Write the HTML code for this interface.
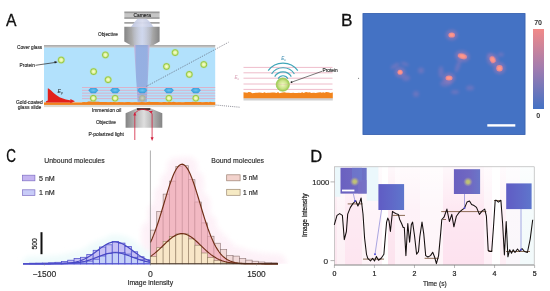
<!DOCTYPE html>
<html><head><meta charset="utf-8"><style>
html,body{margin:0;padding:0;background:#fff;overflow:hidden;}
svg{display:block;font-family:"Liberation Sans", sans-serif;filter:blur(0.38px);}
</style></head><body>
<svg width="550" height="291" viewBox="0 0 550 291">
<rect width="550" height="291" fill="#fff"/>
<defs>
<linearGradient id="beam" x1="0" x2="1"><stop offset="0" stop-color="#d4b4d8"/><stop offset="0.16" stop-color="#92aadf"/><stop offset="0.84" stop-color="#92aadf"/><stop offset="1" stop-color="#d4b4d8"/></linearGradient>
<linearGradient id="obj" x1="0" x2="1"><stop offset="0" stop-color="#848484"/><stop offset="0.5" stop-color="#dedede"/><stop offset="1" stop-color="#848484"/></linearGradient>
<linearGradient id="cam" x1="0" y1="0" x2="0" y2="1"><stop offset="0" stop-color="#7a7a7a"/><stop offset="0.3" stop-color="#c6c6c6"/><stop offset="0.7" stop-color="#c6c6c6"/><stop offset="1" stop-color="#7a7a7a"/></linearGradient>
<linearGradient id="cone" x1="0" y1="0" x2="1" y2="0"><stop offset="0" stop-color="#bcc4de"/><stop offset="0.5" stop-color="#d8dcee"/><stop offset="1" stop-color="#bcc4de"/></linearGradient>
<linearGradient id="objbeam" x1="0" y1="0" x2="1" y2="0"><stop offset="0" stop-color="#b4c0e4" stop-opacity="0"/><stop offset="0.5" stop-color="#ccd6f0" stop-opacity="0.85"/><stop offset="1" stop-color="#b4c0e4" stop-opacity="0"/></linearGradient>
<radialGradient id="grn" cx="0.5" cy="0.5" r="0.5"><stop offset="0" stop-color="#f6fdd8"/><stop offset="0.4" stop-color="#e4f4a4"/><stop offset="0.72" stop-color="#96c846"/><stop offset="1" stop-color="#b4dc80" stop-opacity="0.3"/></radialGradient>
<radialGradient id="grn2" cx="0.5" cy="0.5" r="0.5"><stop offset="0" stop-color="#f0f8c0"/><stop offset="0.6" stop-color="#cce48a"/><stop offset="1" stop-color="#98c850"/></radialGradient>
<radialGradient id="gry" cx="0.5" cy="0.5" r="0.5"><stop offset="0" stop-color="#d0d4c0"/><stop offset="0.7" stop-color="#a8b0a0"/><stop offset="1" stop-color="#b0b8b0" stop-opacity="0.3"/></radialGradient>
<radialGradient id="bprot" cx="0.5" cy="0.45" r="0.55"><stop offset="0" stop-color="#6cc4f0"/><stop offset="1" stop-color="#2e98d8"/></radialGradient>
<radialGradient id="spot"><stop offset="0" stop-color="#ffa090"/><stop offset="0.5" stop-color="#f28c86"/><stop offset="1" stop-color="#4472c4" stop-opacity="0"/></radialGradient>
<radialGradient id="halo"><stop offset="0" stop-color="#9a7cc0" stop-opacity="0.8"/><stop offset="1" stop-color="#4472c4" stop-opacity="0"/></radialGradient>
<linearGradient id="cbar" x1="0" y1="0" x2="0" y2="1"><stop offset="0" stop-color="#f28a88"/><stop offset="0.5" stop-color="#a07cb0"/><stop offset="1" stop-color="#4472c4"/></linearGradient>
<clipPath id="bclip"><rect x="362.7" y="13.2" width="162.6" height="121.6"/></clipPath>
<filter id="blur15" x="-100%" y="-100%" width="300%" height="300%"><feGaussianBlur stdDeviation="1.6"/></filter>
<filter id="blur1" x="-100%" y="-100%" width="300%" height="300%"><feGaussianBlur stdDeviation="0.9"/></filter>
<filter id="blur05" x="-100%" y="-100%" width="300%" height="300%"><feGaussianBlur stdDeviation="0.4"/></filter>
<filter id="blur07" x="-100%" y="-100%" width="300%" height="300%"><feGaussianBlur stdDeviation="0.6"/></filter>
<filter id="blur6" x="-50%" y="-50%" width="200%" height="200%"><feGaussianBlur stdDeviation="2.5"/></filter>
<linearGradient id="dfade" x1="0" y1="0" x2="0" y2="1"><stop offset="0" stop-color="#fff" stop-opacity="0.75"/><stop offset="0.45" stop-color="#fff" stop-opacity="0.2"/><stop offset="1" stop-color="#fff" stop-opacity="0"/></linearGradient>
<linearGradient id="ins1" x1="0" y1="0" x2="1" y2="0"><stop offset="0" stop-color="#6a60c0"/><stop offset="0.6" stop-color="#7068c2"/><stop offset="1" stop-color="#6a76c8"/></linearGradient>
<linearGradient id="ins2" x1="0" y1="0" x2="1" y2="0"><stop offset="0" stop-color="#605cc4"/><stop offset="0.5" stop-color="#6068c8"/><stop offset="1" stop-color="#5e76cc"/></linearGradient>
<radialGradient id="ysp"><stop offset="0" stop-color="#c4c86c"/><stop offset="0.35" stop-color="#b8b880"/><stop offset="0.7" stop-color="#9890a8" stop-opacity="0.6"/><stop offset="1" stop-color="#7068c0" stop-opacity="0"/></radialGradient>
</defs>
<text x="6" y="26.3" font-size="16.9" textLength="10.5" lengthAdjust="spacingAndGlyphs" fill="#111" stroke="#111" stroke-width="0.3">A</text>
<rect x="44" y="47.3" width="171.2" height="55" fill="#b2e1fc"/>
<rect x="44" y="45" width="171.2" height="2.5" fill="#bdbdbd"/>
<rect x="44" y="45" width="171.2" height="0.7" fill="#a8a8a8"/>
<rect x="44" y="102.4" width="171.2" height="2.6" fill="#f0821e"/>
<path d="M82,102.6 L84.0,102.08 L85.4,102.31 L86.6,102.23 L88.2,101.39 L89.9,101.38 L91.5,101.40 L92.8,101.65 L94.8,101.44 L96.3,101.79 L98.4,101.75 L100.0,102.03 L101.3,101.95 L102.8,101.95 L104.1,102.07 L106.1,101.98 L107.9,102.30 L109.4,102.23 L110.7,101.89 L112.1,102.33 L113.7,102.07 L115.5,102.17 L117.0,102.41 L118.9,102.02 L120.7,102.22 L122.8,102.36 L124.3,102.54 L125.6,102.14 L127.5,101.96 L129.2,101.88 L131.1,102.39 L132.9,102.46 L134.4,102.34 L136.2,102.26 L137.8,102.44 L140.0,102.18 L141.8,101.89 L143.7,102.30 L145.9,102.43 L147.4,102.12 L149.3,101.87 L150.9,101.97 L152.3,101.89 L154.2,101.94 L155.7,102.12 L157.7,101.91 L159.4,102.23 L161.5,102.42 L163.5,102.04 L165.2,102.10 L167.2,102.52 L168.6,101.97 L170.0,102.01 L171.7,102.26 L173.2,101.85 L174.8,102.11 L176.6,102.52 L178.5,102.21 L180.3,102.32 L181.5,102.48 L183.5,102.46 L185.5,102.12 L187.1,101.92 L188.9,101.89 L190.2,102.00 L191.6,102.09 L192.8,101.85 L194.2,101.92 L195.7,101.87 L197.8,102.28 L199.2,102.03 L200.7,102.10 L202.0,102.44 L204.2,102.18 L205.9,101.91 L207.2,102.09 L208.7,102.43 L210.0,101.87 L212.2,102.22 L213.5,102.23 L214.8,102.22 L215.2,102.2 L215.2,103.4 L82,103.4Z" fill="#f0821e"/>
<rect x="44" y="104.9" width="171.2" height="2.2" fill="#dedad0"/>
<rect x="124.3" y="11.6" width="35.3" height="7.1" fill="url(#cam)"/>
<text x="133.6" y="16.9" font-size="5.2" textLength="17.30" lengthAdjust="spacingAndGlyphs" fill="#222" stroke="#222" stroke-width="0.16" >Camera</text>
<rect x="124.3" y="22.2" width="35.3" height="1.4" fill="#8c8c8c"/>
<path d="M124.3 26.7 H159.6 V41.4 L153.5 45 H130.4 L124.3 41.4Z" fill="url(#obj)"/>
<path d="M137.5 18.7 L146.5 18.7 Q151 22 153.5 27 L131 27 Q134 22 137.5 18.7Z" fill="url(#cone)" opacity="0.95"/>
<path d="M131 26.7 L153.5 26.7 L150.5 45 L134 45Z" fill="url(#objbeam)"/>
<path d="M134 45 L149.6 45 L146.8 101.8 L137.6 101.8Z" fill="url(#beam)" opacity="0.9"/>
<text x="98" y="35.5" font-size="5.3" textLength="19.90" lengthAdjust="spacingAndGlyphs" fill="#2a2a2a" stroke="#2a2a2a" stroke-width="0.16" >Objective</text>
<line x1="82" y1="87.5" x2="215.2" y2="87.5" stroke="#e8a2b8" stroke-width="0.75"/>
<line x1="82" y1="90.3" x2="215.2" y2="90.3" stroke="#e8a2b8" stroke-width="0.75"/>
<line x1="82" y1="93.1" x2="215.2" y2="93.1" stroke="#e8a2b8" stroke-width="0.75"/>
<line x1="82" y1="95.9" x2="215.2" y2="95.9" stroke="#e8a2b8" stroke-width="0.75"/>
<line x1="82" y1="98.6" x2="215.2" y2="98.6" stroke="#e8a2b8" stroke-width="0.75"/>
<circle cx="61.2" cy="60.0" r="4" fill="url(#grn)"/>
<circle cx="105.4" cy="54.9" r="4" fill="url(#grn)"/>
<circle cx="93.6" cy="71.6" r="4" fill="url(#grn)"/>
<circle cx="108.1" cy="79.7" r="4" fill="url(#grn)"/>
<circle cx="175.1" cy="52.6" r="4" fill="url(#grn)"/>
<circle cx="166.5" cy="66.5" r="4" fill="url(#grn)"/>
<circle cx="203.8" cy="64.5" r="4" fill="url(#grn)"/>
<circle cx="189.3" cy="74.4" r="4" fill="url(#grn)"/>
<circle cx="93.3" cy="98.2" r="3.9" fill="url(#grn)"/>
<path d="M90.5 87.9 H96.1 L98.3 90.2 L95.7 93.3 H90.9 L88.3 90.2Z" fill="url(#bprot)"/>
<circle cx="115.1" cy="98.2" r="3.9" fill="url(#grn)"/>
<path d="M112.3 87.9 H117.9 L120.1 90.2 L117.5 93.3 H112.7 L110.1 90.2Z" fill="url(#bprot)"/>
<circle cx="142.3" cy="98.2" r="3.9" fill="url(#gry)"/>
<path d="M139.5 87.9 H145.1 L147.3 90.2 L144.7 93.3 H139.9 L137.3 90.2Z" fill="url(#bprot)"/>
<circle cx="168.9" cy="98.2" r="3.9" fill="url(#grn)"/>
<path d="M166.1 87.9 H171.7 L173.9 90.2 L171.3 93.3 H166.5 L163.9 90.2Z" fill="url(#bprot)"/>
<circle cx="195.8" cy="98.2" r="3.9" fill="url(#grn)"/>
<path d="M193.0 87.9 H198.6 L200.8 90.2 L198.2 93.3 H193.4 L190.8 90.2Z" fill="url(#bprot)"/>
<path d="M45.8 102.5 L46 101.2 L47.8 100.6 L47.8 88.4 L48.6 88.6 C52 91 55 95 60 97.5 C64 99.2 68 100 71 100.6 L71 102.5Z" fill="#e2201c"/>
<path d="M70.4 98.9 L75 101.2 L70.4 103.3Z" fill="#e2201c"/>
<text x="57.6" y="93.2" font-size="5.2" font-style="italic" fill="#222">E<tspan font-size="3.6" dy="1">p</tspan></text>
<text x="17" y="49.2" font-size="5.3" textLength="25.20" lengthAdjust="spacingAndGlyphs" fill="#2a2a2a" stroke="#2a2a2a" stroke-width="0.16" >Cover glass</text>
<text x="19.6" y="66.9" font-size="5.3" textLength="15.30" lengthAdjust="spacingAndGlyphs" fill="#2a2a2a" stroke="#2a2a2a" stroke-width="0.16" >Protein</text>
<line x1="35.5" y1="65.3" x2="56.3" y2="62.3" stroke="#222" stroke-width="0.7"/>
<path d="M57.6 62.1 L54.4 61.1 L54.8 63.5Z" fill="#222"/>
<text x="16" y="103.5" font-size="5.3" textLength="26.80" lengthAdjust="spacingAndGlyphs" fill="#2a2a2a" stroke="#2a2a2a" stroke-width="0.16" >Gold-coated</text>
<text x="17.7" y="108.9" font-size="5.3" textLength="23.60" lengthAdjust="spacingAndGlyphs" fill="#2a2a2a" stroke="#2a2a2a" stroke-width="0.16" >glass slide</text>
<text x="91.8" y="112.1" font-size="5.3" textLength="29.50" lengthAdjust="spacingAndGlyphs" fill="#2a2a2a" stroke="#2a2a2a" stroke-width="0.16" >Immersion oil</text>
<text x="95.9" y="124.2" font-size="5.3" textLength="20.00" lengthAdjust="spacingAndGlyphs" fill="#2a2a2a" stroke="#2a2a2a" stroke-width="0.16" >Objective</text>
<text x="88.4" y="135.8" font-size="5.3" textLength="35.50" lengthAdjust="spacingAndGlyphs" fill="#2a2a2a" stroke="#2a2a2a" stroke-width="0.16" >P-polarized light</text>
<path d="M136.9 108.2 H150.3 L162.3 113.2 V127.7 H125.6 V113.2Z" fill="url(#obj)"/>
<rect x="136.9" y="108.2" width="13.4" height="1.7" fill="#3a2020"/>
<path d="M134.8 140 V113.5 Q138 109.2 143.4 109.4 Q149 109.6 152.1 113.5 V138" fill="none" stroke="#d21f3c" stroke-width="0.8"/>
<path d="M134.8 112 L133.3 115.6 L136.3 115.6Z" fill="#d21f3c"/>
<path d="M152.1 141 L150.6 137.3 L153.6 137.3Z" fill="#d21f3c"/>
<path d="M151.4 113.6 L149.4 111.2 L152.8 110.8Z" fill="#d21f3c"/>
<line x1="146.6" y1="86.2" x2="228.6" y2="42.2" stroke="#4a4a5a" stroke-width="0.65" stroke-dasharray="1,1.1"/>
<line x1="215.5" y1="105" x2="240.5" y2="107.3" stroke="#4a4a5a" stroke-width="0.65" stroke-dasharray="1,1.1"/>
<line x1="243.5" y1="67.4" x2="332.5" y2="67.4" stroke="#e8a6b8" stroke-width="0.75"/>
<line x1="243.5" y1="72.8" x2="332.5" y2="72.8" stroke="#e8a6b8" stroke-width="0.75"/>
<line x1="243.5" y1="78.2" x2="332.5" y2="78.2" stroke="#e8a6b8" stroke-width="0.75"/>
<line x1="243.5" y1="84.0" x2="332.5" y2="84.0" stroke="#e8a6b8" stroke-width="0.75"/>
<line x1="243.5" y1="89.4" x2="332.5" y2="89.4" stroke="#e8a6b8" stroke-width="0.75"/>
<rect x="243.5" y="98.1" width="89.3" height="2.4" fill="#d0d0d0"/>
<path d="M243.5,98.3 L243.5,92.21 L245.4,92.38 L247.3,92.71 L248.6,91.92 L250.8,92.24 L252.2,93.19 L254.0,92.99 L255.8,92.73 L257.2,92.73 L259.4,92.58 L261.5,92.77 L262.8,92.89 L264.7,92.29 L265.9,93.03 L267.7,92.83 L269.9,92.83 L272.2,92.41 L274.4,92.48 L276.7,93.04 L278.0,92.08 L279.5,93.16 L281.2,92.71 L282.8,92.56 L284.4,92.36 L286.4,92.66 L288.6,92.79 L291.0,93.01 L293.3,92.77 L294.7,93.02 L297.1,93.08 L299.0,92.83 L300.4,92.98 L302.3,92.27 L303.6,93.01 L306.0,92.02 L308.1,92.43 L309.5,92.28 L311.6,93.03 L312.9,92.70 L314.2,92.83 L315.8,93.05 L318.1,92.56 L320.5,92.30 L321.8,92.68 L323.1,92.16 L324.7,92.69 L326.1,91.96 L328.4,92.31 L330.7,93.07 L332.4,92.50 L332.8,92.5 L332.8,98.3Z" fill="#f2841c"/>
<path d="M278.15 78.60 A5.6 5.6 0 0 1 287.85 78.60" fill="none" stroke="#40a6b8" stroke-width="1.15"/>
<path d="M274.69 76.60 A9.6 9.6 0 0 1 291.31 76.60" fill="none" stroke="#40a6b8" stroke-width="1.15"/>
<path d="M271.59 73.99 A13.6 13.6 0 0 1 294.41 73.99" fill="none" stroke="#40a6b8" stroke-width="1.15"/>
<path d="M268.19 70.64 A18.3 18.3 0 0 1 297.81 70.64" fill="none" stroke="#40a6b8" stroke-width="1.15"/>
<circle cx="282.8" cy="84.6" r="6.6" fill="url(#grn2)" stroke="#9ccc50" stroke-width="0.8"/>
<line x1="277" y1="84.4" x2="289" y2="84.4" stroke="#e0a0a8" stroke-width="0.5" opacity="0.6"/>
<text x="281.2" y="59.5" font-size="4.6" font-style="italic" fill="#3a8cb0">E<tspan font-size="3.2" dy="1">c</tspan></text>
<text x="234.5" y="78.5" font-size="4.6" font-style="italic" fill="#d8a0b4">E<tspan font-size="3.2" dy="1">c</tspan></text>
<text x="322.4" y="72.4" font-size="5.3" textLength="15.40" lengthAdjust="spacingAndGlyphs" fill="#2a2a2a" stroke="#2a2a2a" stroke-width="0.16" >Protein</text>
<line x1="322" y1="71.3" x2="291.5" y2="82.2" stroke="#222" stroke-width="0.6"/>
<circle cx="291.5" cy="82.2" r="0.9" fill="#222"/>
<circle cx="358.6" cy="78.3" r="0.55" fill="#555"/>
<text x="341" y="26.2" font-size="17.3" fill="#111" stroke="#111" stroke-width="0.3">B</text>
<rect x="362.7" y="13.2" width="162.6" height="121.6" fill="#4472c4"/>
<rect x="363.1" y="13.6" width="161.8" height="120.8" fill="none" stroke="#3c64b0" stroke-width="0.8"/>
<g clip-path="url(#bclip)">
<g filter="url(#blur15)" fill="#a87cbc" opacity="0.38">
<ellipse cx="458" cy="66" rx="2.2" ry="7" transform="rotate(20 458 66)"/>
<ellipse cx="446" cy="83" rx="6" ry="3.5" transform="rotate(-10 446 83)"/>
<ellipse cx="441" cy="72" rx="2.5" ry="6" transform="rotate(0 441 72)"/>
<ellipse cx="489.5" cy="55.5" rx="2.5" ry="2.5" transform="rotate(0 489.5 55.5)"/>
<ellipse cx="500.8" cy="54.6" rx="3" ry="2" transform="rotate(0 500.8 54.6)"/>
<ellipse cx="421" cy="70.5" rx="3" ry="3" transform="rotate(0 421 70.5)"/>
<ellipse cx="406" cy="78" rx="4" ry="3" transform="rotate(0 406 78)"/>
<ellipse cx="416" cy="94" rx="3" ry="3" transform="rotate(0 416 94)"/>
<ellipse cx="395" cy="66" rx="5" ry="2" transform="rotate(-30 395 66)"/>
<ellipse cx="405" cy="64" rx="4" ry="1.6" transform="rotate(20 405 64)"/>
<ellipse cx="470" cy="88" rx="4" ry="2.5" transform="rotate(0 470 88)"/>
<ellipse cx="455" cy="92" rx="4" ry="2" transform="rotate(0 455 92)"/>
</g>
<ellipse cx="451.7" cy="35" rx="6.10" ry="5.40" transform="rotate(0 451.7 35)" fill="#b07cb4" opacity="0.45" filter="url(#blur15)"/>
<ellipse cx="451.7" cy="35" rx="3.30" ry="2.60" transform="rotate(0 451.7 35)" fill="#ec8a92" filter="url(#blur07)"/>
<ellipse cx="451.7" cy="35" rx="1.92" ry="1.49" transform="rotate(0 451.7 35)" fill="#ff9888" filter="url(#blur05)"/>
<ellipse cx="462.4" cy="56.2" rx="7.40" ry="5.60" transform="rotate(15 462.4 56.2)" fill="#b07cb4" opacity="0.45" filter="url(#blur15)"/>
<ellipse cx="462.4" cy="56.2" rx="4.60" ry="2.80" transform="rotate(15 462.4 56.2)" fill="#ec8a92" filter="url(#blur07)"/>
<ellipse cx="462.4" cy="56.2" rx="2.73" ry="1.61" transform="rotate(15 462.4 56.2)" fill="#ff9888" filter="url(#blur05)"/>
<ellipse cx="449" cy="78.1" rx="6.30" ry="5.30" transform="rotate(0 449 78.1)" fill="#b07cb4" opacity="0.45" filter="url(#blur15)"/>
<ellipse cx="449" cy="78.1" rx="3.50" ry="2.50" transform="rotate(0 449 78.1)" fill="#ec8a92" filter="url(#blur07)"/>
<ellipse cx="449" cy="78.1" rx="2.05" ry="1.43" transform="rotate(0 449 78.1)" fill="#ff9888" filter="url(#blur05)"/>
<ellipse cx="492.7" cy="59.7" rx="5.60" ry="6.40" transform="rotate(-30 492.7 59.7)" fill="#b07cb4" opacity="0.45" filter="url(#blur15)"/>
<ellipse cx="492.7" cy="59.7" rx="2.80" ry="3.60" transform="rotate(-30 492.7 59.7)" fill="#ec8a92" filter="url(#blur07)"/>
<ellipse cx="492.7" cy="59.7" rx="1.61" ry="2.11" transform="rotate(-30 492.7 59.7)" fill="#ff9888" filter="url(#blur05)"/>
<ellipse cx="499.5" cy="68.3" rx="6.00" ry="6.00" transform="rotate(0 499.5 68.3)" fill="#b07cb4" opacity="0.45" filter="url(#blur15)"/>
<ellipse cx="499.5" cy="68.3" rx="3.20" ry="3.20" transform="rotate(0 499.5 68.3)" fill="#ec8a92" filter="url(#blur07)"/>
<ellipse cx="499.5" cy="68.3" rx="1.86" ry="1.86" transform="rotate(0 499.5 68.3)" fill="#ff9888" filter="url(#blur05)"/>
<ellipse cx="400.1" cy="72.3" rx="5.40" ry="5.30" transform="rotate(0 400.1 72.3)" fill="#b07cb4" opacity="0.45" filter="url(#blur15)"/>
<ellipse cx="400.1" cy="72.3" rx="2.60" ry="2.50" transform="rotate(0 400.1 72.3)" fill="#ec8a92" filter="url(#blur07)"/>
<ellipse cx="400.1" cy="72.3" rx="1.49" ry="1.43" transform="rotate(0 400.1 72.3)" fill="#ff9888" filter="url(#blur05)"/>
</g>
<rect x="487.3" y="124.2" width="28" height="2.4" fill="#fff"/>
<rect x="533" y="29" width="11" height="80" fill="url(#cbar)"/>
<text x="538.1" y="25.4" font-size="7.1" font-weight="bold" text-anchor="middle" fill="#333">70</text>
<text x="538.3" y="118.1" font-size="7.1" font-weight="bold" text-anchor="middle" fill="#333">0</text>
<text x="6.3" y="162" font-size="17.9" textLength="9.7" lengthAdjust="spacingAndGlyphs" fill="#111" stroke="#111" stroke-width="0.3">C</text>
<clipPath id="glowclip"><rect x="0" y="140" width="300" height="123.8"/></clipPath><g clip-path="url(#glowclip)">
<path d="M150.40,263.8 L150.40,230.10 L156.76,230.10 L156.76,211.30 L163.12,211.30 L163.12,194.10 L169.48,194.10 L169.48,181.10 L175.84,181.10 L175.84,166.30 L182.20,166.30 L182.20,165.70 L188.56,165.70 L188.56,179.70 L194.92,179.70 L194.92,202.00 L201.28,202.00 L201.28,222.90 L207.64,222.90 L207.64,236.20 L214.00,236.20 L214.00,243.20 L220.36,243.20 L220.36,249.60 L226.72,249.60 L226.72,255.40 L233.08,255.40 L233.08,256.10 L239.44,256.10 L239.44,258.40 L245.80,258.40 L245.80,260.10 L252.16,260.10 L252.16,261.20 L258.52,261.20 L258.52,262.00 L264.88,262.00 L264.88,262.50 L271.24,262.50 L271.24,262.80 L277.60,262.80 L277.60,263.8 Z" fill="#fdeef6" stroke="#fdeef6" stroke-width="18" stroke-linejoin="round" filter="url(#blur6)" opacity="0.8"/>
<path d="M29.56,263.8 L29.56,263.20 L35.92,263.20 L35.92,263.10 L42.28,263.10 L42.28,263.00 L48.64,263.00 L48.64,262.70 L55.00,262.70 L55.00,262.30 L61.36,262.30 L61.36,261.60 L67.72,261.60 L67.72,260.20 L74.08,260.20 L74.08,258.50 L80.44,258.50 L80.44,257.30 L86.80,257.30 L86.80,254.50 L93.16,254.50 L93.16,250.30 L99.52,250.30 L99.52,247.00 L105.88,247.00 L105.88,244.80 L112.24,244.80 L112.24,241.60 L118.60,241.60 L118.60,243.10 L124.96,243.10 L124.96,246.50 L131.32,246.50 L131.32,251.80 L137.68,251.80 L137.68,256.80 L144.04,256.80 L144.04,259.80 L150.40,259.80 L150.40,263.8 Z" fill="#effbfb" stroke="#effbfb" stroke-width="14" stroke-linejoin="round" filter="url(#blur6)"/>
</g>
<rect x="29.56" y="263.20" width="6.36" height="0.60" fill="#c6c0f4" stroke="#5050cc" stroke-width="0.75"/>
<rect x="35.92" y="263.10" width="6.36" height="0.70" fill="#c6c0f4" stroke="#5050cc" stroke-width="0.75"/>
<rect x="42.28" y="263.00" width="6.36" height="0.80" fill="#c6c0f4" stroke="#5050cc" stroke-width="0.75"/>
<rect x="48.64" y="262.70" width="6.36" height="1.10" fill="#c6c0f4" stroke="#5050cc" stroke-width="0.75"/>
<rect x="55.00" y="262.30" width="6.36" height="1.50" fill="#c6c0f4" stroke="#5050cc" stroke-width="0.75"/>
<rect x="61.36" y="261.60" width="6.36" height="2.20" fill="#c6c0f4" stroke="#5050cc" stroke-width="0.75"/>
<rect x="67.72" y="260.20" width="6.36" height="3.60" fill="#c6c0f4" stroke="#5050cc" stroke-width="0.75"/>
<rect x="74.08" y="258.50" width="6.36" height="5.30" fill="#c6c0f4" stroke="#5050cc" stroke-width="0.75"/>
<rect x="80.44" y="257.30" width="6.36" height="6.50" fill="#c6c0f4" stroke="#5050cc" stroke-width="0.75"/>
<rect x="86.80" y="254.50" width="6.36" height="9.30" fill="#c6c0f4" stroke="#5050cc" stroke-width="0.75"/>
<rect x="93.16" y="250.30" width="6.36" height="13.50" fill="#c6c0f4" stroke="#5050cc" stroke-width="0.75"/>
<rect x="99.52" y="247.00" width="6.36" height="16.80" fill="#c6c0f4" stroke="#5050cc" stroke-width="0.75"/>
<rect x="105.88" y="244.80" width="6.36" height="19.00" fill="#c6c0f4" stroke="#5050cc" stroke-width="0.75"/>
<rect x="112.24" y="241.60" width="6.36" height="22.20" fill="#c6c0f4" stroke="#5050cc" stroke-width="0.75"/>
<rect x="118.60" y="243.10" width="6.36" height="20.70" fill="#c6c0f4" stroke="#5050cc" stroke-width="0.75"/>
<rect x="124.96" y="246.50" width="6.36" height="17.30" fill="#c6c0f4" stroke="#5050cc" stroke-width="0.75"/>
<rect x="131.32" y="251.80" width="6.36" height="12.00" fill="#c6c0f4" stroke="#5050cc" stroke-width="0.75"/>
<rect x="137.68" y="256.80" width="6.36" height="7.00" fill="#c6c0f4" stroke="#5050cc" stroke-width="0.75"/>
<rect x="144.04" y="259.80" width="6.36" height="4.00" fill="#c6c0f4" stroke="#5050cc" stroke-width="0.75"/>
<rect x="55.00" y="263.10" width="6.36" height="0.70" fill="#c4d0f8" stroke="#5050cc" stroke-width="0.75"/>
<rect x="61.36" y="263.00" width="6.36" height="0.80" fill="#c4d0f8" stroke="#5050cc" stroke-width="0.75"/>
<rect x="67.72" y="262.80" width="6.36" height="1.00" fill="#c4d0f8" stroke="#5050cc" stroke-width="0.75"/>
<rect x="74.08" y="262.50" width="6.36" height="1.30" fill="#c4d0f8" stroke="#5050cc" stroke-width="0.75"/>
<rect x="80.44" y="262.00" width="6.36" height="1.80" fill="#c4d0f8" stroke="#5050cc" stroke-width="0.75"/>
<rect x="86.80" y="261.10" width="6.36" height="2.70" fill="#c4d0f8" stroke="#5050cc" stroke-width="0.75"/>
<rect x="93.16" y="259.20" width="6.36" height="4.60" fill="#c4d0f8" stroke="#5050cc" stroke-width="0.75"/>
<rect x="99.52" y="256.00" width="6.36" height="7.80" fill="#c4d0f8" stroke="#5050cc" stroke-width="0.75"/>
<rect x="105.88" y="253.50" width="6.36" height="10.30" fill="#c4d0f8" stroke="#5050cc" stroke-width="0.75"/>
<rect x="112.24" y="252.20" width="6.36" height="11.60" fill="#c4d0f8" stroke="#5050cc" stroke-width="0.75"/>
<rect x="118.60" y="252.60" width="6.36" height="11.20" fill="#c4d0f8" stroke="#5050cc" stroke-width="0.75"/>
<rect x="124.96" y="254.10" width="6.36" height="9.70" fill="#c4d0f8" stroke="#5050cc" stroke-width="0.75"/>
<rect x="131.32" y="257.30" width="6.36" height="6.50" fill="#c4d0f8" stroke="#5050cc" stroke-width="0.75"/>
<rect x="137.68" y="259.80" width="6.36" height="4.00" fill="#c4d0f8" stroke="#5050cc" stroke-width="0.75"/>
<rect x="144.04" y="261.70" width="6.36" height="2.10" fill="#c4d0f8" stroke="#5050cc" stroke-width="0.75"/>
<rect x="150.40" y="230.10" width="6.36" height="33.70" fill="#f2dada" stroke="#8c7474" stroke-width="0.6"/>
<rect x="156.76" y="211.30" width="6.36" height="52.50" fill="#f2dada" stroke="#8c7474" stroke-width="0.6"/>
<rect x="163.12" y="194.10" width="6.36" height="69.70" fill="#f2dada" stroke="#8c7474" stroke-width="0.6"/>
<rect x="169.48" y="181.10" width="6.36" height="82.70" fill="#f2dada" stroke="#8c7474" stroke-width="0.6"/>
<rect x="175.84" y="166.30" width="6.36" height="97.50" fill="#f2dada" stroke="#8c7474" stroke-width="0.6"/>
<rect x="182.20" y="165.70" width="6.36" height="98.10" fill="#f2dada" stroke="#8c7474" stroke-width="0.6"/>
<rect x="188.56" y="179.70" width="6.36" height="84.10" fill="#f2dada" stroke="#8c7474" stroke-width="0.6"/>
<rect x="194.92" y="202.00" width="6.36" height="61.80" fill="#f2dada" stroke="#8c7474" stroke-width="0.6"/>
<rect x="201.28" y="222.90" width="6.36" height="40.90" fill="#f2dada" stroke="#8c7474" stroke-width="0.6"/>
<rect x="207.64" y="236.20" width="6.36" height="27.60" fill="#f2dada" stroke="#8c7474" stroke-width="0.6"/>
<rect x="214.00" y="243.20" width="6.36" height="20.60" fill="#f2dada" stroke="#8c7474" stroke-width="0.6"/>
<rect x="220.36" y="249.60" width="6.36" height="14.20" fill="#f2dada" stroke="#8c7474" stroke-width="0.6"/>
<rect x="226.72" y="255.40" width="6.36" height="8.40" fill="#f2dada" stroke="#8c7474" stroke-width="0.6"/>
<rect x="233.08" y="256.10" width="6.36" height="7.70" fill="#f2dada" stroke="#8c7474" stroke-width="0.6"/>
<rect x="239.44" y="258.40" width="6.36" height="5.40" fill="#f2dada" stroke="#8c7474" stroke-width="0.6"/>
<rect x="245.80" y="260.10" width="6.36" height="3.70" fill="#f2dada" stroke="#8c7474" stroke-width="0.6"/>
<rect x="252.16" y="261.20" width="6.36" height="2.60" fill="#f2dada" stroke="#8c7474" stroke-width="0.6"/>
<rect x="258.52" y="262.00" width="6.36" height="1.80" fill="#f2dada" stroke="#8c7474" stroke-width="0.6"/>
<rect x="264.88" y="262.50" width="6.36" height="1.30" fill="#f2dada" stroke="#8c7474" stroke-width="0.6"/>
<rect x="271.24" y="262.80" width="6.36" height="1.00" fill="#f2dada" stroke="#8c7474" stroke-width="0.6"/>
<path d="M150.40,242.47 L152.00,238.98 L153.59,235.14 L155.19,230.96 L156.78,226.48 L158.38,221.71 L159.97,216.70 L161.56,211.51 L163.16,206.21 L164.75,200.86 L166.35,195.55 L167.94,190.37 L169.54,185.42 L171.13,180.79 L172.73,176.57 L174.33,172.85 L175.92,169.72 L177.52,167.24 L179.11,165.48 L180.71,164.46 L182.30,164.21 L183.90,164.75 L185.49,166.05 L187.09,168.10 L188.68,170.83 L190.28,174.19 L191.87,178.10 L193.47,182.49 L195.06,187.25 L196.66,192.30 L198.25,197.54 L199.84,202.87 L201.44,208.21 L203.04,213.48 L204.63,218.61 L206.23,223.53 L207.82,228.20 L209.42,232.57 L211.01,236.62 L212.61,240.33 L214.20,243.69 L215.80,246.71 L217.39,249.38 L218.99,251.74 L220.58,253.78 L222.18,255.55 L223.77,257.06 L225.37,258.33 L226.96,259.40 L228.56,260.29 L230.15,261.02 L231.75,261.61 L233.34,262.09 L234.94,262.48 L236.53,262.79 L238.12,263.03 L239.72,263.22 L241.31,263.36 L242.91,263.48 L244.50,263.56 L246.10,263.62 L247.69,263.67 L249.29,263.71 L250.88,263.73 L252.48,263.75 L254.07,263.77 L255.67,263.78 L257.26,263.78 L258.86,263.79 L260.45,263.79 L262.05,263.79 L263.64,263.80 L265.24,263.80 L266.83,263.80 L268.43,263.80 L270.02,263.80 L271.62,263.80 L273.21,263.80 L274.81,263.80 L276.40,263.80 L278.00,263.80 L278,263.8 L150.4,263.8Z" fill="#f2a4b4" opacity="0.6"/>
<rect x="150.40" y="256.50" width="6.36" height="7.30" fill="#f8e6c8" stroke="#938066" stroke-width="0.6"/>
<rect x="156.76" y="247.70" width="6.36" height="16.10" fill="#f8e6c8" stroke="#938066" stroke-width="0.6"/>
<rect x="163.12" y="241.40" width="6.36" height="22.40" fill="#f8e6c8" stroke="#938066" stroke-width="0.6"/>
<rect x="169.48" y="236.40" width="6.36" height="27.40" fill="#f8e6c8" stroke="#938066" stroke-width="0.6"/>
<rect x="175.84" y="233.90" width="6.36" height="29.90" fill="#f8e6c8" stroke="#938066" stroke-width="0.6"/>
<rect x="182.20" y="233.90" width="6.36" height="29.90" fill="#f8e6c8" stroke="#938066" stroke-width="0.6"/>
<rect x="188.56" y="238.90" width="6.36" height="24.90" fill="#f8e6c8" stroke="#938066" stroke-width="0.6"/>
<rect x="194.92" y="245.20" width="6.36" height="18.60" fill="#f8e6c8" stroke="#938066" stroke-width="0.6"/>
<rect x="201.28" y="253.00" width="6.36" height="10.80" fill="#f8e6c8" stroke="#938066" stroke-width="0.6"/>
<rect x="207.64" y="257.60" width="6.36" height="6.20" fill="#f8e6c8" stroke="#938066" stroke-width="0.6"/>
<rect x="214.00" y="260.60" width="6.36" height="3.20" fill="#f8e6c8" stroke="#938066" stroke-width="0.6"/>
<rect x="220.36" y="262.00" width="6.36" height="1.80" fill="#f8e6c8" stroke="#938066" stroke-width="0.6"/>
<rect x="226.72" y="262.60" width="6.36" height="1.20" fill="#f8e6c8" stroke="#938066" stroke-width="0.6"/>
<rect x="233.08" y="262.90" width="6.36" height="0.90" fill="#f8e6c8" stroke="#938066" stroke-width="0.6"/>
<rect x="239.44" y="263.10" width="6.36" height="0.70" fill="#f8e6c8" stroke="#938066" stroke-width="0.6"/>
<path d="M23.00,263.80 L24.59,263.80 L26.18,263.80 L27.78,263.80 L29.37,263.80 L30.96,263.80 L32.55,263.80 L34.15,263.80 L35.74,263.80 L37.33,263.80 L38.92,263.80 L40.52,263.80 L42.11,263.80 L43.70,263.79 L45.30,263.79 L46.89,263.79 L48.48,263.78 L50.07,263.78 L51.67,263.77 L53.26,263.76 L54.85,263.74 L56.44,263.72 L58.04,263.69 L59.63,263.65 L61.22,263.61 L62.81,263.54 L64.41,263.46 L66.00,263.37 L67.59,263.24 L69.18,263.09 L70.78,262.90 L72.37,262.67 L73.96,262.40 L75.55,262.07 L77.15,261.69 L78.74,261.24 L80.33,260.72 L81.92,260.13 L83.52,259.46 L85.11,258.71 L86.70,257.88 L88.29,256.97 L89.89,255.98 L91.48,254.93 L93.07,253.81 L94.66,252.65 L96.26,251.46 L97.85,250.25 L99.44,249.05 L101.03,247.87 L102.62,246.74 L104.22,245.69 L105.81,244.72 L107.40,243.87 L109.00,243.15 L110.59,242.59 L112.18,242.18 L113.77,241.95 L115.37,241.90 L116.96,242.04 L118.55,242.35 L120.14,242.83 L121.73,243.46 L123.33,244.24 L124.92,245.15 L126.51,246.16 L128.10,247.25 L129.70,248.41 L131.29,249.60 L132.88,250.81 L134.47,252.01 L136.07,253.19 L137.66,254.33 L139.25,255.42 L140.84,256.44 L142.44,257.39 L144.03,258.27 L145.62,259.06 L147.22,259.78 L148.81,260.41 L150.40,260.97" fill="none" stroke="#4848c4" stroke-width="1.2"/>
<path d="M23.00,263.80 L24.59,263.80 L26.18,263.80 L27.78,263.80 L29.37,263.80 L30.96,263.80 L32.55,263.80 L34.15,263.80 L35.74,263.80 L37.33,263.80 L38.92,263.80 L40.52,263.80 L42.11,263.80 L43.70,263.80 L45.30,263.80 L46.89,263.79 L48.48,263.79 L50.07,263.79 L51.67,263.78 L53.26,263.78 L54.85,263.77 L56.44,263.76 L58.04,263.74 L59.63,263.73 L61.22,263.70 L62.81,263.67 L64.41,263.63 L66.00,263.58 L67.59,263.52 L69.18,263.44 L70.78,263.34 L72.37,263.23 L73.96,263.09 L75.55,262.93 L77.15,262.73 L78.74,262.50 L80.33,262.24 L81.92,261.94 L83.52,261.60 L85.11,261.22 L86.70,260.80 L88.29,260.34 L89.89,259.84 L91.48,259.30 L93.07,258.74 L94.66,258.15 L96.26,257.55 L97.85,256.93 L99.44,256.32 L101.03,255.73 L102.62,255.16 L104.22,254.62 L105.81,254.13 L107.40,253.70 L109.00,253.33 L110.59,253.05 L112.18,252.84 L113.77,252.73 L115.37,252.70 L116.96,252.77 L118.55,252.93 L120.14,253.17 L121.73,253.49 L123.33,253.89 L124.92,254.35 L126.51,254.86 L128.10,255.41 L129.70,256.00 L131.29,256.60 L132.88,257.21 L134.47,257.82 L136.07,258.42 L137.66,259.00 L139.25,259.55 L140.84,260.07 L142.44,260.55 L144.03,261.00 L145.62,261.40 L147.22,261.76 L148.81,262.08 L150.40,262.37" fill="none" stroke="#4848c4" stroke-width="1.2"/>
<path d="M150.40,242.47 L152.00,238.98 L153.59,235.14 L155.19,230.96 L156.78,226.48 L158.38,221.71 L159.97,216.70 L161.56,211.51 L163.16,206.21 L164.75,200.86 L166.35,195.55 L167.94,190.37 L169.54,185.42 L171.13,180.79 L172.73,176.57 L174.33,172.85 L175.92,169.72 L177.52,167.24 L179.11,165.48 L180.71,164.46 L182.30,164.21 L183.90,164.75 L185.49,166.05 L187.09,168.10 L188.68,170.83 L190.28,174.19 L191.87,178.10 L193.47,182.49 L195.06,187.25 L196.66,192.30 L198.25,197.54 L199.84,202.87 L201.44,208.21 L203.04,213.48 L204.63,218.61 L206.23,223.53 L207.82,228.20 L209.42,232.57 L211.01,236.62 L212.61,240.33 L214.20,243.69 L215.80,246.71 L217.39,249.38 L218.99,251.74 L220.58,253.78 L222.18,255.55 L223.77,257.06 L225.37,258.33 L226.96,259.40 L228.56,260.29 L230.15,261.02 L231.75,261.61 L233.34,262.09 L234.94,262.48 L236.53,262.79 L238.12,263.03 L239.72,263.22 L241.31,263.36 L242.91,263.48 L244.50,263.56 L246.10,263.62 L247.69,263.67 L249.29,263.71 L250.88,263.73 L252.48,263.75 L254.07,263.77 L255.67,263.78 L257.26,263.78 L258.86,263.79 L260.45,263.79 L262.05,263.79 L263.64,263.80 L265.24,263.80 L266.83,263.80 L268.43,263.80 L270.02,263.80 L271.62,263.80 L273.21,263.80 L274.81,263.80 L276.40,263.80 L278.00,263.80" fill="none" stroke="#702e16" stroke-width="1.15"/>
<path d="M150.40,256.45 L152.00,255.35 L153.59,254.16 L155.19,252.88 L156.78,251.52 L158.38,250.09 L159.97,248.60 L161.56,247.07 L163.16,245.52 L164.75,243.97 L166.35,242.44 L167.94,240.96 L169.54,239.55 L171.13,238.24 L172.73,237.06 L174.33,236.01 L175.92,235.14 L177.52,234.45 L179.11,233.95 L180.71,233.67 L182.30,233.60 L183.90,233.75 L185.49,234.12 L187.09,234.68 L188.68,235.45 L190.28,236.39 L191.87,237.49 L193.47,238.72 L195.06,240.07 L196.66,241.51 L198.25,243.01 L199.84,244.55 L201.44,246.11 L203.04,247.65 L204.63,249.17 L206.23,250.63 L207.82,252.04 L209.42,253.37 L211.01,254.62 L212.61,255.77 L214.20,256.83 L215.80,257.80 L217.39,258.67 L218.99,259.44 L220.58,260.12 L222.18,260.72 L223.77,261.24 L225.37,261.69 L226.96,262.07 L228.56,262.39 L230.15,262.66 L231.75,262.89 L233.34,263.07 L234.94,263.23 L236.53,263.35 L238.12,263.45 L239.72,263.53 L241.31,263.59 L242.91,263.64 L244.50,263.68 L246.10,263.71 L247.69,263.73 L249.29,263.75 L250.88,263.76 L252.48,263.77 L254.07,263.78 L255.67,263.79 L257.26,263.79 L258.86,263.79 L260.45,263.80 L262.05,263.80 L263.64,263.80 L265.24,263.80 L266.83,263.80 L268.43,263.80 L270.02,263.80 L271.62,263.80 L273.21,263.80 L274.81,263.80 L276.40,263.80 L278.00,263.80" fill="none" stroke="#702e16" stroke-width="1.15"/>
<line x1="23" y1="263.8" x2="150.4" y2="263.8" stroke="#5050d0" stroke-width="0.9"/>
<line x1="150.4" y1="263.8" x2="278" y2="263.8" stroke="#3a2a20" stroke-width="0.9"/>
<line x1="150.4" y1="150.5" x2="150.4" y2="265.3" stroke="#777" stroke-width="0.6"/>
<line x1="44.4" y1="263.8" x2="44.4" y2="265.6" stroke="#888" stroke-width="0.5"/>
<line x1="256.5" y1="263.8" x2="256.5" y2="265.6" stroke="#888" stroke-width="0.5"/>
<text x="32.4" y="276.7" font-size="8.7" textLength="23.90" lengthAdjust="spacingAndGlyphs" fill="#2a2a2a" stroke="#2a2a2a" stroke-width="0.16" >−1500</text>
<text x="148" y="276.6" font-size="8.7" textLength="4.80" lengthAdjust="spacingAndGlyphs" fill="#2a2a2a" stroke="#2a2a2a" stroke-width="0.16" >0</text>
<text x="247.2" y="277" font-size="8.7" textLength="18.40" lengthAdjust="spacingAndGlyphs" fill="#2a2a2a" stroke="#2a2a2a" stroke-width="0.16" >1500</text>
<text x="127.6" y="285.4" font-size="6.4" textLength="45.50" lengthAdjust="spacingAndGlyphs" fill="#2a2a2a" stroke="#2a2a2a" stroke-width="0.16" >Image intensity</text>
<rect x="40.5" y="232.2" width="2" height="22" fill="#111"/>
<text transform="translate(36.6,243.9) rotate(-90)" font-size="6.8" text-anchor="middle" fill="#222" stroke="#222" stroke-width="0.22">500</text>
<text x="44.3" y="162.5" font-size="7.4" textLength="60.40" lengthAdjust="spacingAndGlyphs" fill="#2a2a2a" stroke="#2a2a2a" stroke-width="0.16" >Unbound molecules</text>
<rect x="22.5" y="175.2" width="12.4" height="5.6" fill="#c4b4f0" stroke="#7e6ec4" stroke-width="0.7"/>
<rect x="22.5" y="189.8" width="12.4" height="5.6" fill="#c8ccf8" stroke="#7e6ec4" stroke-width="0.7"/>
<text x="39" y="180.6" font-size="6.8" textLength="15.80" lengthAdjust="spacingAndGlyphs" fill="#2a2a2a" stroke="#2a2a2a" stroke-width="0.16" >5 nM</text>
<text x="39" y="195.2" font-size="6.8" textLength="15.80" lengthAdjust="spacingAndGlyphs" fill="#2a2a2a" stroke="#2a2a2a" stroke-width="0.16" >1 nM</text>
<text x="211.3" y="162.5" font-size="7.4" textLength="52.70" lengthAdjust="spacingAndGlyphs" fill="#2a2a2a" stroke="#2a2a2a" stroke-width="0.16" >Bound molecules</text>
<rect x="226.7" y="174.8" width="13.4" height="6" fill="#f2d2cc" stroke="#9c8070" stroke-width="0.7"/>
<rect x="226.7" y="189.3" width="13.4" height="6" fill="#f6eac4" stroke="#9c8870" stroke-width="0.7"/>
<text x="243.1" y="180.2" font-size="6.8" textLength="14.80" lengthAdjust="spacingAndGlyphs" fill="#2a2a2a" stroke="#2a2a2a" stroke-width="0.16" >5 nM</text>
<text x="243.1" y="195.2" font-size="6.8" textLength="14.80" lengthAdjust="spacingAndGlyphs" fill="#2a2a2a" stroke="#2a2a2a" stroke-width="0.16" >1 nM</text>
<text x="310.3" y="161.7" font-size="16.5" fill="#111" stroke="#111" stroke-width="0.3">D</text>
<clipPath id="dclip"><rect x="334.4" y="166.8" width="199.8" height="98.2"/></clipPath>
<rect x="334.4" y="166.8" width="199.80000000000007" height="98.19999999999999" fill="#fff"/>
<rect x="334.4" y="166.8" width="2.6000000000000227" height="98.19999999999999" fill="#fbdce8" opacity="0.7"/>
<rect x="337" y="166.8" width="8" height="98.19999999999999" fill="#fbe8f0" opacity="0.6"/>
<rect x="345" y="166.8" width="17" height="98.19999999999999" fill="#fde2ee" opacity="0.9"/>
<rect x="362" y="166.8" width="6" height="98.19999999999999" fill="#fde8f0" opacity="0.5"/>
<rect x="368" y="166.8" width="14" height="98.19999999999999" fill="#fde6f2" opacity="0.5"/>
<rect x="366.7" y="166.8" width="11.699999999999989" height="98.19999999999999" fill="#e4f8fb" opacity="0.0"/>
<rect x="388" y="166.8" width="7" height="98.19999999999999" fill="#fbdcea" opacity="0.8"/>
<rect x="395" y="166.8" width="5" height="98.19999999999999" fill="#fde6f2" opacity="0.5"/>
<rect x="400" y="166.8" width="20" height="98.19999999999999" fill="#fde4f0" opacity="0.6"/>
<rect x="420" y="166.8" width="23" height="98.19999999999999" fill="#fde8f2" opacity="0.45"/>
<rect x="443" y="166.8" width="41" height="98.19999999999999" fill="#fde0ee" opacity="0.95"/>
<rect x="484" y="166.8" width="8" height="98.19999999999999" fill="#fde6f2" opacity="0.6"/>
<rect x="500" y="166.8" width="6" height="98.19999999999999" fill="#fde2ee" opacity="0.6"/>
<rect x="506" y="166.8" width="14" height="98.19999999999999" fill="#f6f0f6" opacity="0.6"/>
<rect x="520" y="166.8" width="14.200000000000045" height="98.19999999999999" fill="#eaf6f8" opacity="0.6"/>
<rect x="334.4" y="166.8" width="199.80000000000007" height="98.19999999999999" fill="url(#dfade)"/>
<rect x="366.7" y="166.8" width="11.7" height="34" fill="#e6f8fb" opacity="0.8"/>
<rect x="335" y="166.8" width="5.5" height="30" fill="#e6f8fb" opacity="0.8"/>
<rect x="334.4" y="166.8" width="199.80000000000007" height="98.19999999999999" fill="none" stroke="#aaa" stroke-width="0.6"/>
<line x1="334.4" y1="265" x2="534.2" y2="265" stroke="#888" stroke-width="0.8"/>
<line x1="334.40" y1="265" x2="334.40" y2="268" stroke="#777" stroke-width="0.5"/>
<text x="334.40" y="276.2" font-size="7" text-anchor="middle" fill="#222" stroke="#222" stroke-width="0.22">0</text>
<line x1="374.44" y1="265" x2="374.44" y2="268" stroke="#777" stroke-width="0.5"/>
<text x="374.44" y="276.2" font-size="7" text-anchor="middle" fill="#222" stroke="#222" stroke-width="0.22">1</text>
<line x1="414.48" y1="265" x2="414.48" y2="268" stroke="#777" stroke-width="0.5"/>
<text x="414.48" y="276.2" font-size="7" text-anchor="middle" fill="#222" stroke="#222" stroke-width="0.22">2</text>
<line x1="454.52" y1="265" x2="454.52" y2="268" stroke="#777" stroke-width="0.5"/>
<text x="454.52" y="276.2" font-size="7" text-anchor="middle" fill="#222" stroke="#222" stroke-width="0.22">3</text>
<line x1="494.56" y1="265" x2="494.56" y2="268" stroke="#777" stroke-width="0.5"/>
<text x="494.56" y="276.2" font-size="7" text-anchor="middle" fill="#222" stroke="#222" stroke-width="0.22">4</text>
<line x1="534.60" y1="265" x2="534.60" y2="268" stroke="#777" stroke-width="0.5"/>
<text x="534.60" y="276.2" font-size="7" text-anchor="middle" fill="#222" stroke="#222" stroke-width="0.22">5</text>
<line x1="330.5" y1="181.9" x2="334.4" y2="181.9" stroke="#666" stroke-width="0.5"/>
<line x1="330.5" y1="260.6" x2="334.4" y2="260.6" stroke="#666" stroke-width="0.5"/>
<text x="312.2" y="185" font-size="8.1" textLength="17.20" lengthAdjust="spacingAndGlyphs" fill="#2a2a2a" stroke="#2a2a2a" stroke-width="0.16" >1000</text>
<text x="323.6" y="263.6" font-size="8.1" textLength="4.60" lengthAdjust="spacingAndGlyphs" fill="#2a2a2a" stroke="#2a2a2a" stroke-width="0.16" >0</text>
<text x="423" y="285.6" font-size="6.4" textLength="23.60" lengthAdjust="spacingAndGlyphs" fill="#2a2a2a" stroke="#2a2a2a" stroke-width="0.16" >Time (s)</text>
<text transform="translate(307.4,215.3) rotate(-90)" font-size="6.3" text-anchor="middle" textLength="43.6" lengthAdjust="spacingAndGlyphs" fill="#222" stroke="#222" stroke-width="0.22">Image intensity</text>
<line x1="347.7" y1="203.9" x2="362.5" y2="203.9" stroke="#6e4a2c" stroke-width="0.8"/>
<line x1="363" y1="259.1" x2="384" y2="259.1" stroke="#6e4a2c" stroke-width="0.8"/>
<line x1="392.5" y1="215.4" x2="405" y2="215.4" stroke="#6e4a2c" stroke-width="0.8"/>
<line x1="424.6" y1="258.3" x2="438.6" y2="258.3" stroke="#6e4a2c" stroke-width="0.8"/>
<line x1="441.2" y1="211.6" x2="486.4" y2="211.6" stroke="#6e4a2c" stroke-width="0.8"/>
<line x1="488" y1="251" x2="492.5" y2="251" stroke="#6e4a2c" stroke-width="0.8"/>
<line x1="494" y1="200.5" x2="500.5" y2="200.5" stroke="#6e4a2c" stroke-width="0.8"/>
<line x1="506" y1="251.5" x2="530" y2="251.5" stroke="#6e4a2c" stroke-width="0.8"/>
<line x1="442.6" y1="219.5" x2="446" y2="219.5" stroke="#6e4a2c" stroke-width="0.8"/>
<line x1="353.3" y1="193.6" x2="355" y2="201" stroke="#7070d0" stroke-width="0.6"/>
<line x1="381.5" y1="210" x2="375" y2="254.3" stroke="#7070d0" stroke-width="0.6"/>
<line x1="464.5" y1="194" x2="464.5" y2="208" stroke="#7070d0" stroke-width="0.6"/>
<line x1="521" y1="209.1" x2="521" y2="249.7" stroke="#7070d0" stroke-width="0.6"/>
<polyline points="334.3,224.8 337,215.4 339.7,213.6 342.4,215.4 344.3,239.6 346.4,231.5 347.7,214.1 350.4,207.4 353.1,203.4 355.8,200.7 357.9,206 359.8,202 361.1,198 363,214 364.6,238.2 366.5,254.3 367.8,258.3 370.5,261 372.6,258.3 374.5,261 376.4,256.4 378.5,260.2 381.2,258.3 383.9,254.3 385.2,238.2 386.6,222.1 387.8,218.1 389,220.8 390.4,231.5 392.5,211.4 394.4,212.8 397,214.1 398.4,214.6 399.7,219.5 401.6,223.5 403.2,227.5 404.3,227.5 405.9,255.6 407.8,223.5 409.6,242.2 411.3,224.8 412.6,222.1 414.5,235.5 416.6,254.3 418.5,251.6 419.8,236.9 422,222.1 423.8,234.2 425.7,255.6 427.9,257 430.5,255.6 432.7,252.2 434.6,257 436.4,263.7 438.6,255.6 440.7,232.9 441.8,219.5 444,217.2 446.9,209.1 449.4,221.5 451.8,214.4 453.9,226.8 456.4,216.2 458.9,212.7 461.7,210.2 464.5,208.1 467,202.1 469.5,201 471.6,204.5 474.1,205.6 476.5,207.4 479.4,214.4 482.2,210.9 484.7,209.1 486.4,216.2 488.2,250.5 490,251.5 491.7,251.5 493.5,226.8 495.2,200.3 496.3,200.3 498.4,202.1 500.9,200.3 502.6,223.2 504.4,255 506.2,221.5 507.9,256.8 509.7,249.7 511.5,253.2 513.2,249.7 515,252.5 517.5,249 519.6,251.5 522.1,248.7 524.5,251.5 527.4,252.5 530.2,239.1 532.7,219.7" fill="none" stroke="#140e0e" stroke-width="1.05" stroke-linejoin="round"/>
<circle cx="355" cy="201" r="1" fill="#5050d8"/>
<circle cx="375" cy="254.3" r="1" fill="#5050d8"/>
<circle cx="464.5" cy="208" r="1" fill="#5050d8"/>
<circle cx="521" cy="249.7" r="1" fill="#5050d8"/>
<rect x="340.5" y="167.8" width="26.2" height="25.8" fill="url(#ins1)"/><rect x="342" y="189.6" width="12.4" height="1.8" fill="#fff"/>
<rect x="352" y="167.8" width="10" height="14" fill="#6c82d2" opacity="0.5"/>
<rect x="358" y="180" width="8.7" height="13.6" fill="#8070c4" opacity="0.5"/>
<circle cx="354.7" cy="181.6" r="5.2" fill="url(#ysp)"/>
<rect x="378.4" y="184.1" width="25.7" height="25.9" fill="url(#ins2)"/>
<rect x="453.9" y="169.2" width="26.2" height="24.8" fill="url(#ins1)"/><circle cx="468" cy="181.9" r="5.2" fill="url(#ysp)"/>
<rect x="506.2" y="183.4" width="25.4" height="25.7" fill="url(#ins2)"/>
</svg>
</body></html>
